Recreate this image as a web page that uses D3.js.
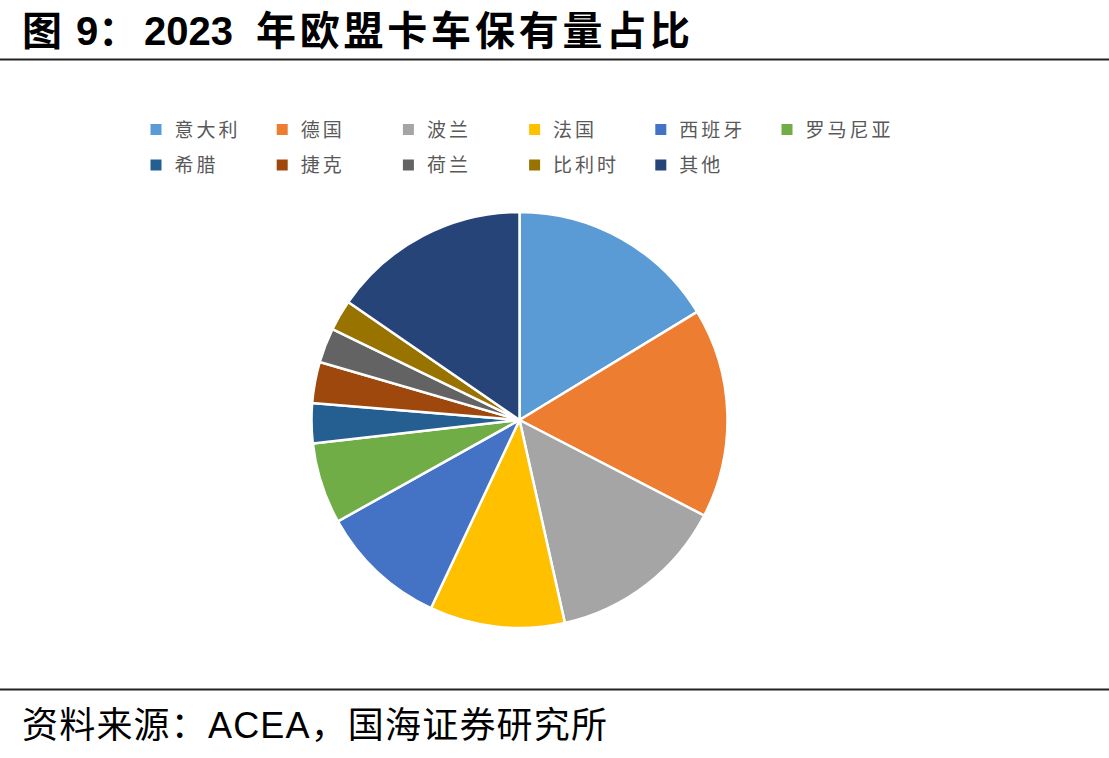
<!DOCTYPE html>
<html>
<head>
<meta charset="utf-8">
<script src="https://cdn.jsdelivr.net/npm/d3@7"></script>
<style>
  body { margin: 0; background: #fff; }
  svg { display: block; }
</style>
</head>
<body>
<div id="chart"></div>
<script>
// 2023 EU truck fleet share (percent)
var countries = ["意大利", "德国", "波兰", "法国", "西班牙", "罗马尼亚", "希腊", "捷克", "荷兰", "比利时", "其他"];
var shares = [16.3, 16.3, 13.9, 10.5, 9.9, 6.3, 3.1, 3.2, 2.7, 2.4, 15.4];
var colors = ["#5B9BD5", "#ED7D31", "#A5A5A5", "#FFC000", "#4472C4", "#70AD47",
              "#255E91", "#9E480E", "#636363", "#997300", "#264478"];

var w = 1109, h = 758;
var cx = 519.5, cy = 420, r = 208;
var font = "'Liberation Sans', Arial, 'Noto Sans CJK SC', sans-serif";

var svg = d3.select("#chart")
    .append("svg")
    .attr("width", w)
    .attr("height", h);

// title in pieces so the digits stay tight and the CJK part is spread like the original
var title = svg.append("text")
    .attr("y", 45)
    .style("font-family", font)
    .style("font-size", "40px")
    .style("font-weight", "bold")
    .style("fill", "#000");
title.append("tspan").attr("x", 22).text("图");
title.append("tspan").attr("x", 76).text("9：");
title.append("tspan").attr("x", 144).text("2023");
title.append("tspan").attr("x", 256)
    .attr("textLength", 434)
    .attr("lengthAdjust", "spacing")
    .text("年欧盟卡车保有量占比");

svg.append("line")
    .attr("x1", 0).attr("x2", w)
    .attr("y1", 59.5).attr("y2", 59.5)
    .style("stroke", "#222")
    .style("stroke-width", 2);

svg.append("line")
    .attr("x1", 0).attr("x2", w)
    .attr("y1", 689.5).attr("y2", 689.5)
    .style("stroke", "#222")
    .style("stroke-width", 2);

svg.append("text")
    .attr("x", 22)
    .attr("y", 738)
    .attr("textLength", 585)
    .attr("lengthAdjust", "spacing")
    .style("font-family", font)
    .style("font-size", "36px")
    .style("fill", "#000")
    .text("资料来源：ACEA，国海证券研究所");

// pie
var pie = d3.pie().sort(null).value(function(d) { return d; });
var arc = d3.arc().innerRadius(0).outerRadius(r);

var g = svg.append("g").attr("transform", "translate(" + cx + "," + cy + ")");
g.selectAll("path")
    .data(pie(shares))
    .enter()
    .append("path")
    .attr("d", arc)
    .style("fill", function(d, i) { return colors[i]; })
    .style("stroke", "#fff")
    .style("stroke-width", 2.5)
    .style("stroke-linejoin", "round");

// legend, 6 per row
var colX = d3.scaleLinear().domain([0, 1]).range([150.5, 276.7]);
var rowY = d3.scaleLinear().domain([0, 1]).range([129.5, 165]);

var legend = svg.selectAll("g.legend")
    .data(countries)
    .enter()
    .append("g")
    .attr("class", "legend")
    .attr("transform", function(d, i) {
        return "translate(" + colX(i % 6) + "," + rowY(Math.floor(i / 6)) + ")";
    });

legend.append("rect")
    .attr("x", 0).attr("y", -5.5)
    .attr("width", 11).attr("height", 11)
    .style("fill", function(d, i) { return colors[i]; });

legend.append("text")
    .attr("x", 24)
    .attr("y", 7)
    .style("font-family", "'Noto Sans CJK SC', sans-serif")
    .style("font-size", "19px")
    .style("letter-spacing", "3px")
    .style("fill", "#595959")
    .text(function(d) { return d; });
</script>
</body>
</html>
